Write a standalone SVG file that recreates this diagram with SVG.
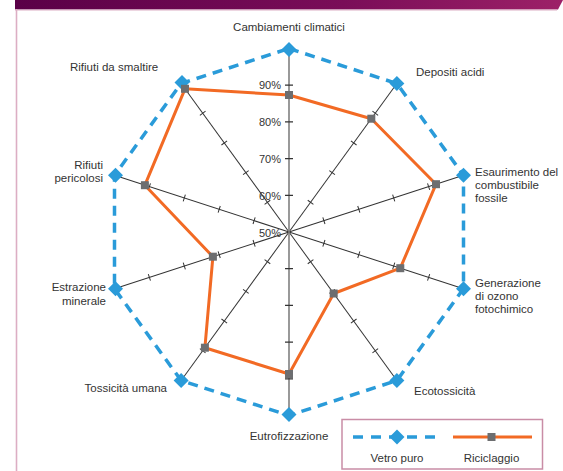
<svg xmlns="http://www.w3.org/2000/svg" xmlns:xlink="http://www.w3.org/1999/xlink" width="563" height="471" viewBox="0 0 563 471">
<style>
text{font-family:"Liberation Sans",Arial,sans-serif;font-size:11.5px;fill:#333}
.pct{font-size:11px;fill:#333}
.ax{stroke:#333;stroke-width:1;fill:none}
.vax{stroke:#808080;stroke-width:1.6;fill:none}
.vt{stroke:#333;stroke-width:1.2}
.blue{stroke:#2a9bd9;stroke-width:3.5;fill:none;stroke-dasharray:10 7}
.orange{stroke:#f26a24;stroke-width:3;fill:none;stroke-linejoin:round}
.dia{fill:#2a9bd9}
.sq{fill:#6d6e70}
</style>
<defs>
<linearGradient id="bar" x1="0" x2="1" y1="0" y2="0">
<stop offset="0" stop-color="#5a0047"/>
<stop offset="0.6" stop-color="#7a0d58"/>
<stop offset="1" stop-color="#9d2168"/>
</linearGradient>
<g id="axis">
<line class="ax" x1="289" y1="232" x2="289" y2="48.5"/>
<path class="ax" d="M285.5 195.3H292.5M285.5 158.6H292.5M285.5 121.9H292.5M285.5 85.2H292.5"/>
</g>
<path id="d" d="M0 -7.5L7.5 0L0 7.5L-7.5 0Z"/>
<rect id="s" x="-4" y="-4" width="8" height="8"/>
</defs>

<!-- frame -->
<g id="frame">
<path d="M15 0H563L558 9.5H15Z" fill="url(#bar)"/>
<line x1="15" y1="10" x2="557" y2="10" stroke="#dcaec4" stroke-width="1"/>
<line x1="16.5" y1="9" x2="16.5" y2="471" stroke="#dcaec4" stroke-width="1.6"/>
</g>

<!-- connectors / axes -->
<g id="connectors">
<use xlink:href="#axis" transform="rotate(36 289 232)"/>
<use xlink:href="#axis" transform="rotate(72 289 232)"/>
<use xlink:href="#axis" transform="rotate(108 289 232)"/>
<use xlink:href="#axis" transform="rotate(144 289 232)"/>
<use xlink:href="#axis" transform="rotate(216 289 232)"/>
<use xlink:href="#axis" transform="rotate(252 289 232)"/>
<use xlink:href="#axis" transform="rotate(288 289 232)"/>
<use xlink:href="#axis" transform="rotate(324 289 232)"/>
<line class="vax" x1="289" y1="48.5" x2="289" y2="415.5"/>
<path class="vt" d="M285 195.3H293M285 158.6H293M285 121.9H293M285 85.2H293M285 268.7H293M285 305.4H293M285 342.1H293M285 378.8H293"/>
<polygon class="blue" points="289,48.5 396.9,83.5 463.5,175.3 463.5,288.7 396.9,380.5 289,415.5 181.1,380.5 114.5,288.7 114.5,175.3 181.1,83.5"/>
<polygon class="orange" points="289,95 371.3,118.7 436,184.2 400.3,268.2 333.7,293.5 289,374 204.9,347.7 212.9,256.7 144.9,185.2 185,88.8"/>
</g>

<!-- scale labels -->
<g id="scale">
<text class="pct" x="281" y="89" text-anchor="end">90%</text>
<text class="pct" x="281" y="126" text-anchor="end">80%</text>
<text class="pct" x="281" y="163" text-anchor="end">70%</text>
<text class="pct" x="281" y="199.5" text-anchor="end">60%</text>
<text class="pct" x="281" y="236.5" text-anchor="end">50%</text>
</g>

<!-- nodes -->
<g id="n-cambiamenti">
<use xlink:href="#d" x="289" y="49.5" class="dia"/>
<use xlink:href="#s" class="sq" x="289" y="95"/>
<text x="289" y="31" text-anchor="middle">Cambiamenti climatici</text>
</g>
<g id="n-depositi">
<use xlink:href="#d" x="396.9" y="83.5" class="dia"/>
<use xlink:href="#s" class="sq" x="371.3" y="118.7"/>
<text x="416" y="76">Depositi acidi</text>
</g>
<g id="n-esaurimento">
<use xlink:href="#d" x="463.5" y="175.3" class="dia"/>
<use xlink:href="#s" class="sq" x="436" y="184.2"/>
<text x="475" y="176">Esaurimento del</text>
<text x="475" y="189">combustibile</text>
<text x="475" y="202">fossile</text>
</g>
<g id="n-generazione">
<use xlink:href="#d" x="463.5" y="288.7" class="dia"/>
<use xlink:href="#s" class="sq" x="400.3" y="268.2"/>
<text x="475" y="287">Generazione</text>
<text x="475" y="300">di ozono</text>
<text x="475" y="313">fotochimico</text>
</g>
<g id="n-ecotossicita">
<use xlink:href="#d" x="396.9" y="380.5" class="dia"/>
<use xlink:href="#s" class="sq" x="333.7" y="293.5"/>
<text x="414" y="395">Ecotossicità</text>
</g>
<g id="n-eutrofizzazione">
<use xlink:href="#d" x="289" y="414.5" class="dia"/>
<use xlink:href="#s" class="sq" x="289" y="374"/>
<text x="289" y="440" text-anchor="middle">Eutrofizzazione</text>
</g>
<g id="n-tossicita">
<use xlink:href="#d" x="181.1" y="380.5" class="dia"/>
<use xlink:href="#s" class="sq" x="204.9" y="347.7"/>
<text x="167" y="392" text-anchor="end">Tossicità umana</text>
</g>
<g id="n-estrazione">
<use xlink:href="#d" x="115.5" y="288.7" class="dia"/>
<use xlink:href="#s" class="sq" x="212.9" y="256.7"/>
<text x="106" y="291" text-anchor="end">Estrazione</text>
<text x="106" y="305" text-anchor="end">minerale</text>
</g>
<g id="n-pericolosi">
<use xlink:href="#d" x="115.5" y="175.3" class="dia"/>
<use xlink:href="#s" class="sq" x="144.9" y="185.2"/>
<text x="103" y="169" text-anchor="end">Rifiuti</text>
<text x="103" y="182" text-anchor="end">pericolosi</text>
</g>
<g id="n-smaltire">
<use xlink:href="#d" x="182" y="82.5" class="dia"/>
<use xlink:href="#s" class="sq" x="185" y="88.8"/>
<text x="70" y="71">Rifiuti da smaltire</text>
</g>

<!-- legend -->
<g id="legend">
<rect x="342" y="419.5" width="200.5" height="49.5" fill="#fff" stroke="#c98da6" stroke-width="1.5"/>
<line class="blue" x1="353" y1="437" x2="441" y2="437" style="stroke-dasharray:10 8"/>
<use xlink:href="#d" class="dia" x="397" y="437"/>
<line class="orange" x1="453" y1="437" x2="532" y2="437"/>
<use xlink:href="#s" class="sq" x="491.5" y="437"/>
<text x="397" y="462" text-anchor="middle">Vetro puro</text>
<text x="491.5" y="462" text-anchor="middle">Riciclaggio</text>
</g>
</svg>
